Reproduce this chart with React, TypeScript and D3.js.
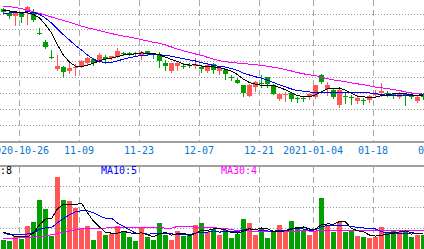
import React from "react";
import * as d3 from "d3";

const W = 424;
const H = 249;

// date axis
const dateLabels = ["2020-10-26", "11-09", "11-23", "12-07", "12-21", "2021-01-04", "01-18", "02-01"];
const dateIndex = [3, 13, 23, 33, 43, 52, 62, 72];

// daily OHLC
const open = [28.29, 28.08, 27.89, 28.04, 28.14, 28.14, 26.83, 26.25, 25.29, 24.53,
  24.68, 24.41, 24.58, 24.68, 24.93, 25.14, 25.06, 25.27, 25.24, 25.31,
  25.54, 25.54, 25.54, 25.41, 25.67, 25.54, 25.41, 24.93, 24.41, 24.72,
  24.74, 24.78, 24.74, 24.68, 24.41, 24.85, 24.41, 24.47, 24.01, 23.84,
  23.52, 22.83, 23.42, 23.65, 24.03, 23.51, 22.66, 22.88, 23.04, 22.74,
  22.74, 22.77, 22.77, 24.14, 23.27, 23.21, 22.26, 22.86, 22.77, 22.52,
  22.56, 22.58, 22.90, 23.00, 23.02, 22.93, 22.79, 22.93, 22.86, 22.54, 22.86];
const high = [28.38, 28.16, 28.12, 28.12, 28.50, 28.29, 27.10, 26.36, 25.73, 25.41,
  24.72, 24.99, 24.85, 25.10, 25.26, 25.21, 25.56, 25.41, 25.38, 25.84,
  25.62, 25.60, 25.60, 25.67, 25.70, 25.56, 25.62, 25.10, 24.94, 25.04,
  24.89, 24.89, 25.21, 24.78, 24.82, 24.93, 24.68, 24.53, 24.15, 23.95,
  23.52, 23.59, 23.78, 24.15, 24.06, 23.59, 23.05, 23.08, 23.10, 22.77,
  22.80, 23.04, 23.52, 24.22, 23.73, 23.27, 23.32, 23.00, 22.89, 22.89,
  22.69, 22.89, 23.21, 23.63, 23.17, 23.04, 23.08, 23.00, 23.00, 22.89, 23.02];
const low = [28.06, 27.73, 27.30, 27.51, 27.37, 27.58, 26.77, 25.87, 25.23, 24.47,
  24.09, 24.26, 24.15, 24.63, 24.88, 24.78, 24.99, 24.91, 25.19, 25.27,
  25.41, 25.41, 25.41, 25.14, 25.48, 25.21, 24.68, 24.47, 24.36, 24.47,
  24.58, 24.64, 24.58, 24.36, 24.34, 24.30, 24.22, 23.90, 23.84, 23.63,
  22.83, 22.83, 23.17, 23.42, 23.42, 22.96, 22.61, 22.52, 22.50, 22.45,
  22.54, 22.66, 22.74, 23.65, 22.89, 22.71, 22.12, 22.37, 22.33, 22.37,
  22.33, 22.47, 22.77, 22.83, 22.83, 22.69, 22.74, 22.26, 22.69, 22.45, 22.64];
const close = [28.12, 27.89, 28.08, 27.83, 28.46, 27.62, 26.77, 25.94, 25.23, 24.72,
  24.36, 24.58, 24.68, 25.06, 25.21, 24.93, 25.41, 25.18, 25.35, 25.69,
  25.48, 25.48, 25.48, 25.62, 25.52, 25.48, 25.04, 24.74, 24.89, 24.89,
  24.66, 24.72, 24.83, 24.53, 24.77, 24.47, 24.58, 24.22, 23.97, 23.67,
  23.02, 23.52, 23.73, 23.59, 23.61, 22.98, 22.98, 22.98, 22.66, 22.68,
  22.68, 22.98, 23.51, 23.71, 23.52, 22.75, 23.21, 22.80, 22.71, 22.69,
  22.52, 22.83, 23.05, 23.17, 22.96, 22.86, 23.04, 22.86, 22.80, 22.79, 22.80];
// closes of the 9 sessions before the first visible one
const priorClose = [27.81, 27.75, 27.87, 27.94, 28.0, 28.12, 28.25, 28.31, 28.38];
// 30-day average of close as shown
const ma30Price = [28.49, 28.46, 28.41, 28.34, 28.24, 28.14, 28.04, 27.92, 27.81, 27.70,
  27.59, 27.48, 27.36, 27.24, 27.13, 27.05, 26.96, 26.86, 26.77, 26.68,
  26.61, 26.54, 26.47, 26.39, 26.30, 26.22, 26.16, 26.05, 25.92, 25.79,
  25.68, 25.58, 25.48, 25.40, 25.27, 25.16, 25.06, 24.99, 24.95, 24.91,
  24.87, 24.84, 24.80, 24.77, 24.71, 24.65, 24.58, 24.50, 24.41, 24.31,
  24.23, 24.17, 24.12, 24.00, 23.92, 23.85, 23.79, 23.73, 23.66, 23.60,
  23.54, 23.47, 23.40, 23.35, 23.30, 23.24, 23.18, 23.09, 23.03, 22.98, 22.95];

// volume
const volume = [0.43, 0.40, 0.62, 0.48, 1.10, 1.33, 2.38, 1.95, 0.62, 3.44,
  2.38, 2.29, 1.97, 0.98, 1.10, 0.43, 0.90, 0.71, 0.75, 1.10,
  0.86, 0.59, 0.40, 1.03, 0.59, 0.46, 1.25, 0.71, 0.43, 0.90,
  0.62, 0.67, 1.19, 1.25, 0.83, 0.98, 0.71, 0.94, 0.54, 0.75,
  1.43, 1.25, 0.71, 0.98, 0.54, 0.83, 1.19, 0.90, 1.38, 1.03,
  0.86, 0.71, 0.90, 2.44, 1.17, 0.83, 1.30, 0.83, 0.87, 0.62,
  0.59, 0.54, 0.59, 1.06, 0.83, 0.86, 0.83, 0.86, 0.59, 0.71, 0.67];
const priorVolume = [0.60, 0.75, 0.70, 0.65, 0.70, 0.80, 1.22, 0.58, 1.07];
const ma30Volume = [0.51, 0.52, 0.54, 0.56, 0.57, 0.58, 0.61, 0.64, 0.71, 0.76,
  0.82, 0.88, 0.93, 0.99, 0.99, 0.99, 1.00, 1.02, 1.05, 1.06,
  1.06, 1.06, 1.06, 1.06, 1.06, 1.06, 1.06, 1.01, 1.01, 1.10,
  1.10, 1.10, 1.06, 1.06, 1.06, 1.06, 0.99, 0.99, 0.95, 0.90,
  0.90, 0.88, 0.86, 0.86, 0.86, 0.86, 0.86, 0.86, 0.86, 0.88,
  0.90, 0.88, 0.88, 0.89, 0.90, 0.90, 0.90, 0.90, 0.90, 0.91,
  0.91, 0.90, 0.90, 0.90, 0.90, 0.90, 0.90, 0.90, 0.90, 0.90, 0.90];

const volLegend = [
  { text: "MA5:8", color: "#000000", x: 12, anchor: "end" },
  { text: "MA10:5", color: "#0000ff", x: 101, anchor: "start" },
  { text: "MA30:4", color: "#ff00ff", x: 221, anchor: "start" },
];

const RED = "#ff5656";
const GREEN = "#00a000";
const GRID = "#a8a8a8";
const FONT = "'DejaVu Sans Mono', monospace";

function movingAvg(values: number[], prior: number[], n: number): number[] {
  const all = prior.concat(values);
  return values.map((_, i) => {
    const end = i + prior.length + 1;
    return d3.mean(all.slice(end - n, end)) as number;
  });
}

export default function App() {
  const x = d3.scaleLinear().domain([0, 70]).range([3.5, 423.5]);
  const yP = d3.scaleLinear().domain([20, 29]).range([141, -1.875]);
  const yV = d3.scaleLinear().domain([0, 4]).range([249.5, 165.5]);

  const ma5 = movingAvg(close, priorClose, 5);
  const ma10 = movingAvg(close, priorClose, 10);
  const vma5 = movingAvg(volume, priorVolume, 5);
  const vma10 = movingAvg(volume, priorVolume, 10);

  const lineP = d3.line<number>().x((_, i) => x(i)).y((d) => yP(d));
  const lineV = d3.line<number>().x((_, i) => x(i)).y((d) => yV(d));

  const priceTicks = d3.range(21, 29);
  const volTicks = [1, 2, 3];

  return (
    <svg width={W} height={H} style={{ position: "fixed", left: 0, top: 0, background: "#fff" }}>
      <rect x={0} y={0} width={W} height={H} fill="#ffffff" />
      {/* horizontal dotted grids */}
      {priceTicks.map((t) => (
        <line key={"pg" + t} x1={0} x2={W} y1={Math.floor(yP(t)) + 0.5} y2={Math.floor(yP(t)) + 0.5}
          stroke="#9a9a9a" strokeWidth={1} strokeDasharray="1,2" shapeRendering="crispEdges" />
      ))}
      {volTicks.map((t) => (
        <line key={"vg" + t} x1={0} x2={W} y1={Math.floor(yV(t)) + 0.5} y2={Math.floor(yV(t)) + 0.5}
          stroke="#9a9a9a" strokeWidth={1} strokeDasharray="1,2" shapeRendering="crispEdges" />
      ))}
      {/* vertical dashed grids */}
      {dateIndex.map((di) => {
        const gx = Math.floor(x(di) - 2) + 0.5;
        return (
          <g key={"vd" + di}>
            <line x1={gx} x2={gx} y1={0} y2={141} stroke={GRID} strokeDasharray="6,4" shapeRendering="crispEdges" />
            <line x1={gx} x2={gx} y1={167} y2={H} stroke={GRID} strokeDasharray="6,4" shapeRendering="crispEdges" />
          </g>
        );
      })}
      {/* axis / panel separators */}
      <line x1={0} x2={W} y1={142} y2={142} stroke="#a0a0a0" strokeWidth={2} shapeRendering="crispEdges" />
      <line x1={0} x2={W} y1={166} y2={166} stroke="#a0a0a0" strokeWidth={2} shapeRendering="crispEdges" />

      {/* candles */}
      {close.map((c, i) => {
        const o = open[i];
        const up = c >= o;
        const col = up ? RED : GREEN;
        const cx = x(i);
        const top = Math.round(yP(Math.max(o, c)));
        const bot = Math.round(yP(Math.min(o, c)));
        const hy = Math.round(yP(high[i]));
        const ly = Math.round(yP(low[i]));
        return (
          <g key={"c" + i}>
            <line x1={cx} x2={cx} y1={hy} y2={ly + 1} stroke={col} strokeWidth={1} shapeRendering="crispEdges" />
            <rect x={cx - 2.5} y={top} width={5} height={Math.max(1, bot - top)} fill={col} shapeRendering="crispEdges" />
          </g>
        );
      })}
      {/* price MAs */}
      <path d={lineP(ma30Price) || ""} fill="none" stroke="#ff00ff" strokeWidth={1} shapeRendering="crispEdges" />
      <path d={lineP(ma10) || ""} fill="none" stroke="#0000ff" strokeWidth={1} shapeRendering="crispEdges" />
      <path d={lineP(ma5) || ""} fill="none" stroke="#000000" strokeWidth={1} shapeRendering="crispEdges" />

      {/* date labels */}
      {dateIndex.map((di, k) => (
        <text key={"dl" + k} x={Math.floor(x(di) - 2)} y={154} textAnchor="middle"
          fontFamily={FONT} fontSize={10} fill="#0a78d2">{dateLabels[k]}</text>
      ))}

      {/* volume bars */}
      {volume.map((v, i) => {
        const up = close[i] >= open[i];
        const top = Math.round(yV(v));
        return (
          <rect key={"v" + i} x={x(i) - 2.5} y={top} width={5} height={H - top}
            fill={up ? RED : GREEN} shapeRendering="crispEdges" />
        );
      })}
      <path d={lineV(ma30Volume) || ""} fill="none" stroke="#ff00ff" strokeWidth={1} shapeRendering="crispEdges" />
      <path d={lineV(vma10) || ""} fill="none" stroke="#0000ff" strokeWidth={1} shapeRendering="crispEdges" />
      <path d={lineV(vma5) || ""} fill="none" stroke="#000000" strokeWidth={1} shapeRendering="crispEdges" />

      {volLegend.map((l) => (
        <text key={l.text} x={l.x} y={174} textAnchor={l.anchor as any} fontFamily={FONT}
          fontSize={10} fill={l.color}>{l.text}</text>
      ))}
    </svg>
  );
}
